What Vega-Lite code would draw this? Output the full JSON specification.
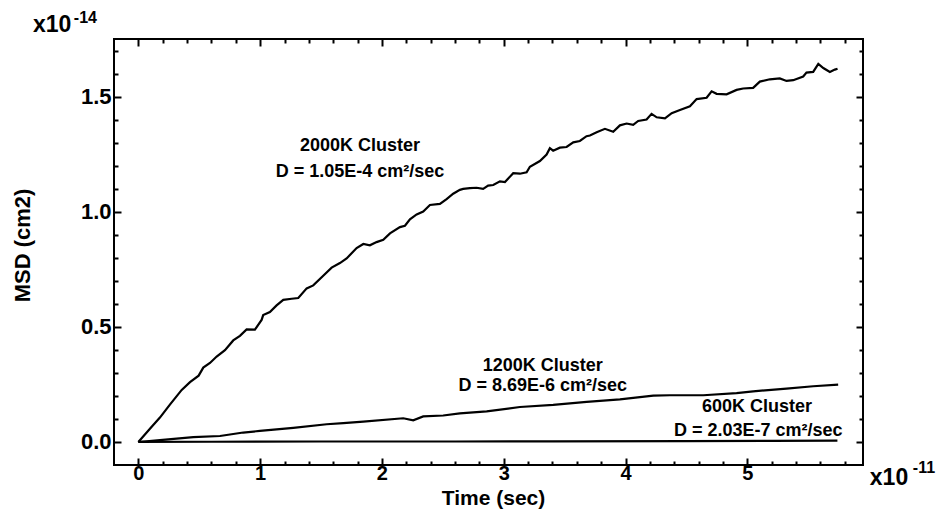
{
  "$schema": "https://vega.github.io/schema/vega-lite/v6.json",
  "width": 749,
  "height": 426,
  "autosize": {"type": "none"},
  "padding": {"left": 114, "top": 39, "right": 79, "bottom": 44},
  "background": "white",
  "config": {"view": {"stroke": "black", "strokeWidth": 2}, "font": "Liberation Sans"},
  "datasets": {
    "curves": [
      {"series": "2000K", "t": 0, "msd": 0},
      {"series": "2000K", "t": 0.095, "msd": 0.057},
      {"series": "2000K", "t": 0.177, "msd": 0.106},
      {"series": "2000K", "t": 0.259, "msd": 0.162},
      {"series": "2000K", "t": 0.356, "msd": 0.226},
      {"series": "2000K", "t": 0.424, "msd": 0.26},
      {"series": "2000K", "t": 0.495, "msd": 0.288},
      {"series": "2000K", "t": 0.533, "msd": 0.323},
      {"series": "2000K", "t": 0.588, "msd": 0.343},
      {"series": "2000K", "t": 0.643, "msd": 0.371},
      {"series": "2000K", "t": 0.711, "msd": 0.399},
      {"series": "2000K", "t": 0.779, "msd": 0.441},
      {"series": "2000K", "t": 0.834, "msd": 0.461},
      {"series": "2000K", "t": 0.889, "msd": 0.489},
      {"series": "2000K", "t": 0.957, "msd": 0.488},
      {"series": "2000K", "t": 1.012, "msd": 0.53},
      {"series": "2000K", "t": 1.025, "msd": 0.551},
      {"series": "2000K", "t": 1.08, "msd": 0.564},
      {"series": "2000K", "t": 1.135, "msd": 0.593},
      {"series": "2000K", "t": 1.19, "msd": 0.617},
      {"series": "2000K", "t": 1.259, "msd": 0.622},
      {"series": "2000K", "t": 1.313, "msd": 0.625},
      {"series": "2000K", "t": 1.382, "msd": 0.667},
      {"series": "2000K", "t": 1.436, "msd": 0.68},
      {"series": "2000K", "t": 1.518, "msd": 0.722},
      {"series": "2000K", "t": 1.587, "msd": 0.757},
      {"series": "2000K", "t": 1.655, "msd": 0.777},
      {"series": "2000K", "t": 1.71, "msd": 0.797},
      {"series": "2000K", "t": 1.792, "msd": 0.842},
      {"series": "2000K", "t": 1.847, "msd": 0.86},
      {"series": "2000K", "t": 1.901, "msd": 0.854},
      {"series": "2000K", "t": 1.956, "msd": 0.868},
      {"series": "2000K", "t": 2.011, "msd": 0.878},
      {"series": "2000K", "t": 2.066, "msd": 0.906},
      {"series": "2000K", "t": 2.148, "msd": 0.933},
      {"series": "2000K", "t": 2.189, "msd": 0.939},
      {"series": "2000K", "t": 2.23, "msd": 0.967},
      {"series": "2000K", "t": 2.285, "msd": 0.988},
      {"series": "2000K", "t": 2.339, "msd": 1.001},
      {"series": "2000K", "t": 2.394, "msd": 1.029},
      {"series": "2000K", "t": 2.476, "msd": 1.034},
      {"series": "2000K", "t": 2.531, "msd": 1.055},
      {"series": "2000K", "t": 2.585, "msd": 1.078},
      {"series": "2000K", "t": 2.64, "msd": 1.095},
      {"series": "2000K", "t": 2.667, "msd": 1.099},
      {"series": "2000K", "t": 2.722, "msd": 1.102},
      {"series": "2000K", "t": 2.777, "msd": 1.104},
      {"series": "2000K", "t": 2.831, "msd": 1.099},
      {"series": "2000K", "t": 2.872, "msd": 1.113},
      {"series": "2000K", "t": 2.914, "msd": 1.116},
      {"series": "2000K", "t": 2.969, "msd": 1.132},
      {"series": "2000K", "t": 3.01, "msd": 1.129},
      {"series": "2000K", "t": 3.078, "msd": 1.167},
      {"series": "2000K", "t": 3.133, "msd": 1.165},
      {"series": "2000K", "t": 3.188, "msd": 1.171},
      {"series": "2000K", "t": 3.215, "msd": 1.195},
      {"series": "2000K", "t": 3.297, "msd": 1.22},
      {"series": "2000K", "t": 3.352, "msd": 1.248},
      {"series": "2000K", "t": 3.379, "msd": 1.276},
      {"series": "2000K", "t": 3.406, "msd": 1.265},
      {"series": "2000K", "t": 3.461, "msd": 1.278},
      {"series": "2000K", "t": 3.516, "msd": 1.281},
      {"series": "2000K", "t": 3.571, "msd": 1.301},
      {"series": "2000K", "t": 3.625, "msd": 1.307},
      {"series": "2000K", "t": 3.68, "msd": 1.328},
      {"series": "2000K", "t": 3.708, "msd": 1.331},
      {"series": "2000K", "t": 3.763, "msd": 1.345},
      {"series": "2000K", "t": 3.831, "msd": 1.36},
      {"series": "2000K", "t": 3.899, "msd": 1.347},
      {"series": "2000K", "t": 3.954, "msd": 1.375},
      {"series": "2000K", "t": 4.009, "msd": 1.383},
      {"series": "2000K", "t": 4.063, "msd": 1.377},
      {"series": "2000K", "t": 4.104, "msd": 1.394},
      {"series": "2000K", "t": 4.173, "msd": 1.4},
      {"series": "2000K", "t": 4.214, "msd": 1.425},
      {"series": "2000K", "t": 4.256, "msd": 1.41},
      {"series": "2000K", "t": 4.324, "msd": 1.405},
      {"series": "2000K", "t": 4.379, "msd": 1.428},
      {"series": "2000K", "t": 4.447, "msd": 1.442},
      {"series": "2000K", "t": 4.529, "msd": 1.458},
      {"series": "2000K", "t": 4.584, "msd": 1.489},
      {"series": "2000K", "t": 4.666, "msd": 1.495},
      {"series": "2000K", "t": 4.707, "msd": 1.523},
      {"series": "2000K", "t": 4.748, "msd": 1.512},
      {"series": "2000K", "t": 4.83, "msd": 1.51},
      {"series": "2000K", "t": 4.912, "msd": 1.529},
      {"series": "2000K", "t": 4.966, "msd": 1.535},
      {"series": "2000K", "t": 5.048, "msd": 1.538},
      {"series": "2000K", "t": 5.103, "msd": 1.565},
      {"series": "2000K", "t": 5.185, "msd": 1.575},
      {"series": "2000K", "t": 5.267, "msd": 1.579},
      {"series": "2000K", "t": 5.322, "msd": 1.568},
      {"series": "2000K", "t": 5.377, "msd": 1.571},
      {"series": "2000K", "t": 5.459, "msd": 1.587},
      {"series": "2000K", "t": 5.486, "msd": 1.604},
      {"series": "2000K", "t": 5.541, "msd": 1.607},
      {"series": "2000K", "t": 5.583, "msd": 1.642},
      {"series": "2000K", "t": 5.624, "msd": 1.624},
      {"series": "2000K", "t": 5.678, "msd": 1.607},
      {"series": "2000K", "t": 5.719, "msd": 1.617},
      {"series": "2000K", "t": 5.741, "msd": 1.621},
      {"series": "1200K", "t": 0, "msd": 0},
      {"series": "1200K", "t": 0.177, "msd": 0.008},
      {"series": "1200K", "t": 0.451, "msd": 0.021},
      {"series": "1200K", "t": 0.67, "msd": 0.026},
      {"series": "1200K", "t": 0.861, "msd": 0.041},
      {"series": "1200K", "t": 0.998, "msd": 0.048},
      {"series": "1200K", "t": 1.272, "msd": 0.061},
      {"series": "1200K", "t": 1.546, "msd": 0.077},
      {"series": "1200K", "t": 1.683, "msd": 0.082},
      {"series": "1200K", "t": 1.847, "msd": 0.088},
      {"series": "1200K", "t": 2.175, "msd": 0.103},
      {"series": "1200K", "t": 2.257, "msd": 0.094},
      {"series": "1200K", "t": 2.339, "msd": 0.111},
      {"series": "1200K", "t": 2.503, "msd": 0.115},
      {"series": "1200K", "t": 2.64, "msd": 0.124},
      {"series": "1200K", "t": 2.86, "msd": 0.133},
      {"series": "1200K", "t": 3.133, "msd": 0.152},
      {"series": "1200K", "t": 3.406, "msd": 0.161},
      {"series": "1200K", "t": 3.681, "msd": 0.174},
      {"series": "1200K", "t": 3.954, "msd": 0.185},
      {"series": "1200K", "t": 4.228, "msd": 0.201},
      {"series": "1200K", "t": 4.365, "msd": 0.203},
      {"series": "1200K", "t": 4.639, "msd": 0.203},
      {"series": "1200K", "t": 4.912, "msd": 0.212},
      {"series": "1200K", "t": 5.048, "msd": 0.22},
      {"series": "1200K", "t": 5.322, "msd": 0.232},
      {"series": "1200K", "t": 5.541, "msd": 0.242},
      {"series": "1200K", "t": 5.746, "msd": 0.249},
      {"series": "600K", "t": 0, "msd": 0},
      {"series": "600K", "t": 0.6, "msd": 0.001},
      {"series": "600K", "t": 1.5, "msd": 0.002},
      {"series": "600K", "t": 2.6, "msd": 0.002},
      {"series": "600K", "t": 3.4, "msd": 0.003},
      {"series": "600K", "t": 4.5, "msd": 0.004},
      {"series": "600K", "t": 5.2, "msd": 0.005},
      {"series": "600K", "t": 5.74, "msd": 0.006}
    ],
    "notes": [
      {"t": 1.82, "msd": 1.286, "label": "2000K Cluster"},
      {"t": 1.82, "msd": 1.173, "label": "D = 1.05E-4 cm²/sec"},
      {"t": 3.32, "msd": 0.329, "label": "1200K Cluster"},
      {"t": 3.32, "msd": 0.242, "label": "D = 8.69E-6 cm²/sec"},
      {"t": 5.08, "msd": 0.153, "label": "600K Cluster"},
      {"t": 5.09, "msd": 0.049, "label": "D = 2.03E-7 cm²/sec"}
    ],
    "exp_base": [
      {"t": -0.865, "msd": 1.78, "label": "x10"},
      {"t": 6.006, "msd": -0.187, "label": "x10"}
    ],
    "exp_power": [
      {"t": -0.53, "msd": 1.819, "label": "-14"},
      {"t": 6.359, "msd": -0.135, "label": "-11"}
    ]
  },
  "layer": [
    {
      "data": {"name": "curves"},
      "mark": {"type": "line", "color": "black", "strokeWidth": 2.2},
      "encoding": {
        "x": {
          "field": "t", "type": "quantitative",
          "scale": {"domain": [-0.2, 5.95], "nice": false, "zero": false},
          "axis": {
            "orient": "bottom",
            "values": [0, 0.2, 0.4, 0.6, 0.8, 1, 1.2, 1.4, 1.6, 1.8, 2, 2.2, 2.4, 2.6, 2.8, 3, 3.2, 3.4, 3.6, 3.8, 4, 4.2, 4.4, 4.6, 4.8, 5, 5.2, 5.4, 5.6, 5.8],
            "labelExpr": "abs(datum.value - round(datum.value)) < 0.001 ? format(datum.value, 'd') : ''",
            "tickSize": {"condition": {"test": "abs(datum.value - round(datum.value)) < 0.001", "value": -7}, "value": -4},
            "tickColor": "black", "tickWidth": 2,
            "domain": false, "grid": false,
            "labelFont": "Liberation Sans", "labelFontWeight": "bold", "labelFontSize": 20, "labelColor": "black",
            "labelPadding": 5, "labelFlush": false, "labelOverlap": false,
            "title": "Time (sec)", "titleFont": "Liberation Sans", "titleFontSize": 21, "titleFontWeight": "bold", "titleColor": "black",
            "titleX": 379, "titleY": 33, "titleAlign": "center", "titleBaseline": "middle"
          }
        },
        "y": {
          "field": "msd", "type": "quantitative",
          "scale": {"domain": [-0.1, 1.75], "nice": false, "zero": false},
          "axis": {
            "orient": "left",
            "values": [0, 0.1, 0.2, 0.3, 0.4, 0.5, 0.6, 0.7, 0.8, 0.9, 1, 1.1, 1.2, 1.3, 1.4, 1.5, 1.6, 1.7],
            "labelExpr": "abs(datum.value * 2 - round(datum.value * 2)) < 0.001 ? format(datum.value, '.1f') : ''",
            "tickSize": {"condition": {"test": "abs(datum.value * 2 - round(datum.value * 2)) < 0.001", "value": -7}, "value": -4},
            "tickColor": "black", "tickWidth": 2,
            "domain": false, "grid": false,
            "labelFont": "Liberation Sans", "labelFontWeight": "bold", "labelFontSize": 22, "labelColor": "black",
            "labelPadding": 10, "labelFlush": false, "labelOverlap": false,
            "title": "MSD (cm2)", "titleFont": "Liberation Sans", "titleFontSize": 22, "titleFontWeight": "bold", "titleColor": "black",
            "titleX": -92, "titleY": 206, "titleAngle": -90, "titleAlign": "center", "titleBaseline": "middle"
          }
        },
        "detail": {"field": "series", "type": "nominal"}
      }
    },
    {
      "data": {"name": "notes"},
      "mark": {"type": "text", "font": "Liberation Sans", "fontWeight": "bold", "fontSize": 18, "color": "black", "align": "center", "baseline": "middle"},
      "encoding": {
        "x": {
          "field": "t", "type": "quantitative",
          "axis": {
            "orient": "top",
            "values": [0, 0.2, 0.4, 0.6, 0.8, 1, 1.2, 1.4, 1.6, 1.8, 2, 2.2, 2.4, 2.6, 2.8, 3, 3.2, 3.4, 3.6, 3.8, 4, 4.2, 4.4, 4.6, 4.8, 5, 5.2, 5.4, 5.6, 5.8],
            "labels": false, "title": null, "domain": false, "grid": false,
            "tickSize": {"condition": {"test": "abs(datum.value - round(datum.value)) < 0.001", "value": -7}, "value": -4},
            "tickColor": "black", "tickWidth": 2
          }
        },
        "y": {
          "field": "msd", "type": "quantitative",
          "axis": {
            "orient": "right",
            "values": [0, 0.1, 0.2, 0.3, 0.4, 0.5, 0.6, 0.7, 0.8, 0.9, 1, 1.1, 1.2, 1.3, 1.4, 1.5, 1.6, 1.7],
            "labels": false, "title": null, "domain": false, "grid": false,
            "tickSize": {"condition": {"test": "abs(datum.value * 2 - round(datum.value * 2)) < 0.001", "value": -7}, "value": -4},
            "tickColor": "black", "tickWidth": 2
          }
        },
        "text": {"field": "label", "type": "nominal"}
      }
    },
    {
      "data": {"name": "exp_base"},
      "mark": {"type": "text", "font": "Liberation Sans", "fontWeight": "bold", "fontSize": 23, "color": "black", "align": "left", "baseline": "alphabetic"},
      "encoding": {
        "x": {"field": "t", "type": "quantitative", "axis": null},
        "y": {"field": "msd", "type": "quantitative", "axis": null},
        "text": {"field": "label", "type": "nominal"}
      }
    },
    {
      "data": {"name": "exp_power"},
      "mark": {"type": "text", "font": "Liberation Sans", "fontWeight": "bold", "fontSize": 16, "color": "black", "align": "left", "baseline": "alphabetic"},
      "encoding": {
        "x": {"field": "t", "type": "quantitative", "axis": null},
        "y": {"field": "msd", "type": "quantitative", "axis": null},
        "text": {"field": "label", "type": "nominal"}
      }
    }
  ],
  "resolve": {"axis": {"x": "independent", "y": "independent"}}
}
